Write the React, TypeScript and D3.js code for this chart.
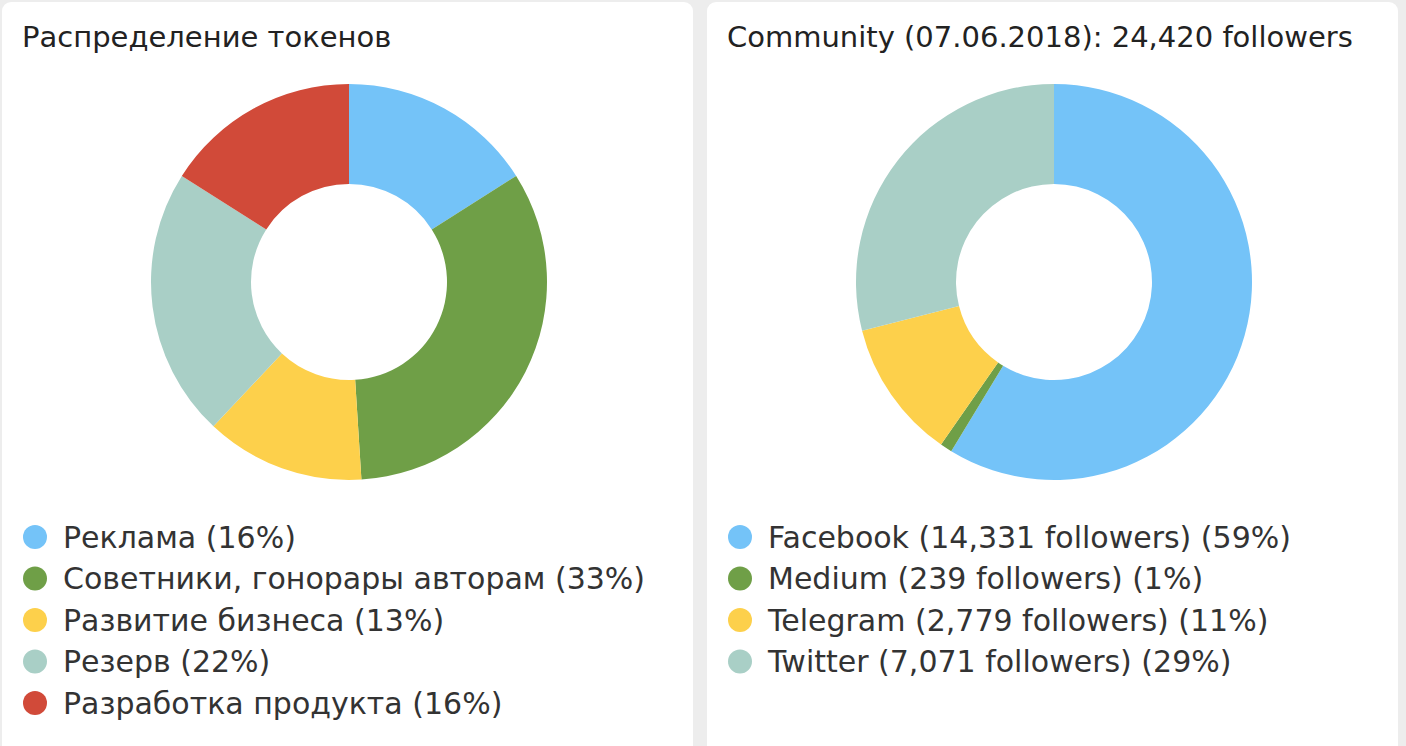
import { useEffect, useRef } from 'react';
import * as d3 from 'd3';

const W = 1406
const H = 746

const tokenLabels = ['Реклама', 'Советники, гонорары авторам', 'Развитие бизнеса', 'Резерв', 'Разработка продукта']
const tokenValues = [16, 33, 13, 22, 16]
const tokenColors = ['#74c3f8', '#6f9f47', '#fdd04b', '#a9cfc6', '#d14a39']

const communityLabels = ['Facebook', 'Medium', 'Telegram', 'Twitter']
const communityValues = [14331, 239, 2779, 7071]
const communityColors = ['#74c3f8', '#6f9f47', '#fdd04b', '#a9cfc6']

const fontFamily = '"DejaVu Sans", Lato, sans-serif'

interface Panel {
  x: number
  title: string
  labels: string[]
  values: number[]
  colors: string[]
  legend: (i: number) => string
}

const App = () => {
  const ref = useRef<SVGSVGElement>(null)

  useEffect(() => {
    if (!ref.current) return
    const svg = d3.select(ref.current)
    svg.selectAll('*').remove()

    svg.append('rect').attr('width', W).attr('height', H).attr('fill', '#ededed')

    const total = d3.sum(communityValues)
    const fmt = d3.format(',')

    const panels: Panel[] = [
      {
        x: 2,
        title: 'Распределение токенов',
        labels: tokenLabels,
        values: tokenValues,
        colors: tokenColors,
        legend: i => `${tokenLabels[i]} (${tokenValues[i]}%)`,
      },
      {
        x: 707,
        title: `Community (07.06.2018): ${fmt(total)} followers`,
        labels: communityLabels,
        values: communityValues,
        colors: communityColors,
        legend: i => `${communityLabels[i]} (${fmt(communityValues[i])} followers) (${Math.round(communityValues[i] / total * 100)}%)`,
      },
    ]

    const pie = d3.pie<number>().sort(null).value(d => d)
    const arc = d3.arc<d3.PieArcDatum<number>>().innerRadius(98).outerRadius(198)

    panels.forEach(p => {
      const g = svg.append('g').attr('transform', `translate(${p.x}, 0)`)

      g.append('rect')
        .attr('x', 0).attr('y', 2)
        .attr('width', 691).attr('height', H + 20)
        .attr('rx', 9)
        .attr('fill', '#ffffff')

      g.append('text')
        .attr('x', 20).attr('y', 47)
        .attr('font-family', fontFamily)
        .attr('font-size', 29)
        .attr('fill', '#222')
        .text(p.title)

      g.append('g')
        .attr('transform', 'translate(347, 282)')
        .selectAll('path')
        .data(pie(p.values))
        .enter()
        .append('path')
        .attr('d', arc)
        .attr('fill', (_, i) => p.colors[i])

      const rowY = d3.scaleLinear().domain([0, 1]).range([537, 578.5])
      const legend = g.append('g')
      const rows = legend.selectAll('g')
        .data(p.labels)
        .enter()
        .append('g')
        .attr('transform', (_, i) => `translate(0, ${rowY(i)})`)

      rows.append('circle')
        .attr('cx', 33).attr('cy', 0).attr('r', 12)
        .attr('fill', (_, i) => p.colors[i])

      rows.append('text')
        .attr('x', 61).attr('y', 0)
        .attr('dy', '0.36em')
        .attr('font-family', fontFamily)
        .attr('font-size', 30)
        .attr('fill', '#333')
        .text((_, i) => p.legend(i))
    })
  }, [])

  return (
    <svg
      ref={ref}
      width={W}
      height={H}
      style={{ position: 'absolute', left: 0, top: 0 }}
    ></svg>
  )
}

export default App;
